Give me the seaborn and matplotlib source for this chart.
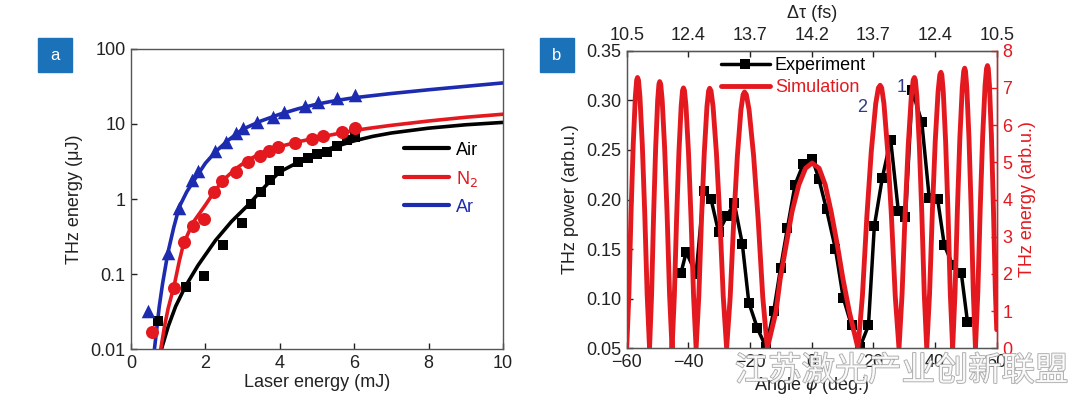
import matplotlib
matplotlib.use("Agg")
import matplotlib.pyplot as plt
import matplotlib.patheffects as pe
from matplotlib.ticker import FixedLocator, FixedFormatter, NullLocator
import seaborn as sns

# ---------------- data: panel a ----------------
ar_x = [0.45, 0.99, 1.30, 1.63, 1.79, 2.26, 2.55, 2.82, 3.00, 3.40, 3.81, 4.12, 4.68, 5.02, 5.53, 6.02]
ar_y = [0.0324, 0.192, 0.766, 1.79, 2.36, 4.37, 5.81, 7.51, 8.75, 10.5, 12.5, 14.6, 17.6, 19.9, 22.0, 24.4]
n2_x = [0.556, 1.165, 1.434, 1.658, 1.97, 2.24, 2.455, 2.81, 3.14, 3.47, 3.71, 3.96, 4.41, 4.86, 5.17, 5.66, 6.02]
n2_y = [0.0167, 0.0657, 0.264, 0.441, 0.536, 1.25, 1.76, 2.31, 3.08, 3.74, 4.37, 4.89, 5.58, 6.25, 6.99, 7.74, 8.75]
air_x = [0.72, 1.48, 1.97, 2.48, 2.98, 3.23, 3.49, 3.75, 3.99, 4.50, 4.75, 4.99, 5.26, 5.53, 5.80, 6.02]
air_y = [0.0236, 0.0664, 0.095, 0.244, 0.474, 0.849, 1.23, 1.79, 2.36, 3.15, 3.49, 3.94, 4.28, 5.14, 6.12, 6.78]

ar_fit_x = [0.63, 0.70, 0.76, 0.85, 0.99, 1.15, 1.30, 1.50, 1.70, 2.00, 2.28, 2.60, 3.00, 3.50, 4.00, 4.50,
            5.00, 5.50, 6.00, 7.00, 8.00, 9.00, 10.0]
ar_fit_y = [0.01, 0.02, 0.037, 0.075, 0.19, 0.42, 0.79, 1.25, 1.79, 3.0, 4.3, 6.0, 8.5, 11.0, 13.5, 16.0,
            18.4, 20.5, 22.4, 25.5, 28.6, 31.8, 35.3]
n2_fit_x = [0.80, 0.90, 1.00, 1.16, 1.30, 1.41, 1.66, 2.00, 2.21, 2.46, 2.80, 3.14, 3.63, 4.00, 4.50,
            5.00, 5.50, 6.00, 6.50, 7.00, 8.00, 9.00, 10.0]
n2_fit_y = [0.01, 0.02, 0.035, 0.07, 0.15, 0.25, 0.48, 0.83, 1.19, 1.75, 2.5, 3.3, 4.4, 5.0, 5.8,
            6.56, 7.35, 8.2, 8.9, 9.6, 10.96, 12.3, 13.5]
air_fit_x = [0.82, 1.00, 1.20, 1.46, 1.80, 2.27, 2.70, 3.20, 3.50, 3.80, 4.00, 4.50, 5.00, 5.50, 6.00,
             6.50, 7.00, 8.00, 9.00, 10.0]
air_fit_y = [0.01, 0.02, 0.037, 0.068, 0.13, 0.28, 0.50, 0.88, 1.3, 1.85, 2.3, 3.1, 4.1, 5.0, 5.96,
             6.84, 7.59, 8.8, 9.77, 10.5]

left_yticks = [0.01, 0.1, 1, 10, 100]
left_yticklabels = ["0.01", "0.1", "1", "10", "100"]

# ---------------- data: panel b ----------------
exp_angle = [-42.4, -40.7, -37.5, -35.0, -32.7, -30.2, -27.6, -25.1, -22.5, -20.4, -17.6, -14.8, -12.3,
             -10.1, -7.9, -5.4, -2.7, 0.2, 2.3, 4.8, 7.7, 10.2, 12.9, 15.6, 18.4, 20.3, 22.9, 25.6,
             28.1, 30.4, 32.6, 35.7, 38.1, 40.8, 43.0, 45.7, 48.5, 50.5]
exp_power = [0.126, 0.147, 0.125, 0.209, 0.201, 0.167, 0.183, 0.196, 0.155, 0.096, 0.070, 0.051, 0.088,
             0.131, 0.171, 0.215, 0.236, 0.241, 0.221, 0.190, 0.150, 0.101, 0.073, 0.051, 0.073, 0.173,
             0.222, 0.260, 0.188, 0.182, 0.310, 0.278, 0.202, 0.201, 0.154, 0.134, 0.126, 0.077]

sim_angle = [
    -60.0, -59.3, -58.6, -57.9, -57.2, -56.78, -56.5,
    -56.19, -55.72, -54.94, -54.16, -53.38, -52.6,
    -51.94, -51.28, -50.62, -49.96, -49.56, -49.3,
    -48.98, -48.5, -47.7, -46.9, -46.1, -45.3,
    -44.56, -43.82, -43.08, -42.34, -41.9, -41.6,
    -41.27, -40.78, -39.96, -39.14, -38.32, -37.5,
    -36.62, -35.74, -34.86, -33.98, -33.45, -33.1,
    -32.66, -32.0, -30.9, -29.8, -28.7, -27.6,
    -26.44, -25.28, -24.12, -22.96, -22.26, -21.8,
    -21.21, -20.32, -18.84, -17.36, -15.88, -14.4,
    -11.6, -10.2, -8.3, -6.4, -4.2, -2.0, 0.1,
    2.4, 4.4, 6.3, 8.3, 10.1, 12.2, 15.0,
    16.44, 17.88, 19.32, 20.76, 21.62, 22.2,
    22.69, 23.42, 24.64, 25.86, 27.08, 28.3,
    29.3, 30.3, 31.3, 32.3, 32.9, 33.3,
    33.62, 34.1, 34.9, 35.7, 36.5, 37.3,
    38.22, 39.14, 40.06, 40.98, 41.53, 41.9,
    42.2, 42.66, 43.42, 44.18, 44.94, 45.7,
    46.48, 47.26, 48.04, 48.82, 49.29, 49.6,
    49.88, 50.3, 51.0, 51.7, 52.4, 53.1,
    53.88, 54.66, 55.44, 56.22, 56.69, 57.0,
    57.26, 57.64, 58.28, 58.92, 59.56, 60.0]
sim_energy = [
    0.0, 1.46, 3.64, 5.46, 6.77, 7.21, 7.28,
    7.21, 6.77, 5.46, 3.64, 1.46, 0.0,
    1.43, 3.59, 5.38, 6.67, 7.10, 7.17,
    7.10, 6.67, 5.38, 3.59, 1.43, 0.0,
    1.40, 3.50, 5.25, 6.51, 6.93, 7.00,
    6.93, 6.51, 5.25, 3.50, 1.40, 0.0,
    1.40, 3.50, 5.24, 6.50, 6.92, 6.99,
    6.92, 6.50, 5.24, 3.50, 1.40, 0.0,
    1.38, 3.45, 5.17, 6.41, 6.82, 6.89,
    6.82, 6.41, 5.17, 3.45, 1.38, 0.0,
    0.98, 1.88, 2.78, 3.67, 4.39, 4.84, 4.98,
    4.84, 4.39, 3.67, 2.78, 1.88, 0.98, 0.0,
    1.41, 3.54, 5.30, 6.58, 7.00, 7.07,
    7.00, 6.58, 5.30, 3.54, 1.41, 0.0,
    1.46, 3.64, 5.46, 6.77, 7.21, 7.28,
    7.21, 6.77, 5.46, 3.64, 1.46, 0.0,
    1.48, 3.71, 5.57, 6.90, 7.35, 7.42,
    7.35, 6.90, 5.57, 3.71, 1.48, 0.0,
    1.51, 3.77, 5.65, 7.00, 7.45, 7.53,
    7.45, 7.00, 5.65, 3.77, 1.51, 0.0,
    1.52, 3.80, 5.70, 7.07, 7.52, 7.60,
    7.52, 7.07, 5.70, 3.80, 1.52, 0.5]

bottom_ticks = [-60, -40, -20, 0, 20, 40, 60]
top_ticklabels = ["10.5", "12.4", "13.7", "14.2", "13.7", "12.4", "10.5"]
power_ticks = [0.05, 0.10, 0.15, 0.20, 0.25, 0.30, 0.35]
energy_ticks = [0, 1, 2, 3, 4, 5, 6, 7, 8]

# ---------------- style ----------------
sns.set_style("white")
plt.rcParams["font.family"] = ["Liberation Sans", "DejaVu Sans"]
plt.rcParams["mathtext.fontset"] = "dejavusans"

BLACK = "#000000"
RED = "#e4191f"
BLUE = "#1c2bb0"
TXT = "#222222"
FS = 13

fig = plt.figure(figsize=(10.8, 3.99), dpi=100)
axL = fig.add_axes([0.1213, 0.1253, 0.3444, 0.7519])
axR = fig.add_axes([0.5803, 0.1271, 0.3426, 0.7458])

# ---------------- panel a ----------------
sns.lineplot(x=air_fit_x, y=air_fit_y, ax=axL, color=BLACK, lw=2.6, sort=False, estimator=None, label="Air")
sns.lineplot(x=n2_fit_x, y=n2_fit_y, ax=axL, color=RED, lw=2.6, sort=False, estimator=None, label="N$_2$")
sns.lineplot(x=ar_fit_x, y=ar_fit_y, ax=axL, color=BLUE, lw=2.6, sort=False, estimator=None, label="Ar")
sns.scatterplot(x=air_x, y=air_y, ax=axL, marker="s", s=62, color=BLACK, linewidth=0, zorder=3)
sns.scatterplot(x=n2_x, y=n2_y, ax=axL, marker="o", s=88, color=RED, linewidth=0, zorder=3)
sns.scatterplot(x=ar_x, y=ar_y, ax=axL, marker="^", s=95, color=BLUE, linewidth=0, zorder=3)

axL.set_yscale("log")
axL.set_xlim(0, 10)
axL.set_ylim(0.01, 100)
axL.yaxis.set_major_locator(FixedLocator(left_yticks))
axL.yaxis.set_major_formatter(FixedFormatter(left_yticklabels))
axL.yaxis.set_minor_locator(NullLocator())
axL.set_xticks([0, 2, 4, 6, 8, 10])
axL.tick_params(axis="both", direction="in", length=4, width=1, labelsize=FS, colors=TXT,
                left=True, bottom=True, top=False, right=False, pad=4)
axL.set_xlabel("Laser energy (mJ)", fontsize=FS, color=TXT, labelpad=2)
axL.set_ylabel("THz energy (\u03bcJ)", fontsize=FS, color=TXT, labelpad=5)
for sp in axL.spines.values():
    sp.set_color("#555555")
    sp.set_linewidth(1.0)

handles = axL.get_lines()[:3]
legL = axL.legend(handles=handles, labels=["Air", "N$_2$", "Ar"], loc="upper left",
                  bbox_to_anchor=(0.715, 0.715), frameon=False, fontsize=FS,
                  handlelength=2.5, handletextpad=0.35, labelspacing=0.55, borderaxespad=0)
for t, c in zip(legL.get_texts(), [BLACK, RED, BLUE]):
    t.set_color(c)
for h in legL.legend_handles:
    h.set_linewidth(3.0)

# ---------------- panel b ----------------
sns.lineplot(x=exp_angle, y=exp_power, ax=axR, color=BLACK, lw=2.5, marker="s", markersize=6.5,
             markeredgewidth=0, sort=False, estimator=None, label="Experiment", zorder=2)
axR.set_xlim(-60, 60)
axR.set_ylim(0.05, 0.35)
axR.set_xticks(bottom_ticks)
axR.set_xticklabels([("\u2212" + str(abs(v))) if v < 0 else str(v) for v in bottom_ticks])
axR.set_yticks(power_ticks)
axR.set_yticklabels(["%.2f" % v for v in power_ticks])
axR.tick_params(axis="both", direction="in", length=4, width=1, labelsize=FS, colors=TXT,
                left=True, bottom=True, top=False, right=False, pad=4)
axR.set_xlabel("Angle $\\phi$ (deg.)", fontsize=FS, color=TXT, labelpad=2)
axR.set_ylabel("THz power (arb.u.)", fontsize=FS, color=TXT, labelpad=5)
for sp in axR.spines.values():
    sp.set_color("#555555")
    sp.set_linewidth(1.0)

ax2 = axR.twinx()
sns.lineplot(x=sim_angle, y=sim_energy, ax=ax2, color=RED, lw=3.5, sort=False, estimator=None,
             label="Simulation")
ax2.set_ylim(0, 8)
ax2.set_yticks(energy_ticks)
ax2.tick_params(axis="y", direction="in", length=4, width=1, labelsize=FS, colors=RED, pad=4)
ax2.set_ylabel("THz energy (arb.u.)", fontsize=FS, color=RED, labelpad=5)
ax2.spines["right"].set_color(RED)
ax2.spines["right"].set_linewidth(1.0)
for k in ["left", "top", "bottom"]:
    ax2.spines[k].set_color("#555555")

top = axR.secondary_xaxis("top")
top.set_xticks(bottom_ticks)
top.set_xticklabels(top_ticklabels)
top.tick_params(direction="in", length=4, width=1, labelsize=FS, colors=TXT, pad=5)
top.set_xlabel("\u0394\u03c4 (fs)", fontsize=FS, color=TXT, labelpad=6)

if axR.get_legend() is not None:
    axR.get_legend().remove()
legR = ax2.legend(handles=[axR.get_lines()[0], ax2.get_lines()[0]], labels=["Experiment", "Simulation"],
                  loc="upper left", bbox_to_anchor=(0.225, 1.015), frameon=False, fontsize=FS,
                  handlelength=2.7, handletextpad=0.3, labelspacing=0.3, borderaxespad=0.2)
for t, c in zip(legR.get_texts(), [BLACK, RED]):
    t.set_color(c)

axR.text(29.0, 0.313, "1", fontsize=FS, color="#2e3a87", ha="center", va="center", zorder=5)
axR.text(16.4, 0.293, "2", fontsize=FS, color="#2e3a87", ha="center", va="center", zorder=5)

# ---------------- panel tags ----------------
for x0, lab in [(38, "a"), (540, "b")]:
    fig.patches.append(plt.Rectangle((x0 / 1080, 1 - 72 / 399), 34 / 1080, 34 / 399,
                                     transform=fig.transFigure, color="#1b72b9", zorder=5))
    fig.text((x0 + 17) / 1080, 1 - 55 / 399, lab, color="white", fontsize=12,
             ha="center", va="center", zorder=6)

# ---------------- watermark ----------------
fig.text(0.835, 1 - 371 / 399, "江苏激光产业创新联盟", family=["Noto Sans CJK SC", "DejaVu Sans"],
         fontsize=24, color="white", alpha=0.85, ha="center", va="center", zorder=10,
         path_effects=[pe.withStroke(linewidth=1.2, foreground="#9a9a9a")])

fig.savefig("out.png", dpi=100)
